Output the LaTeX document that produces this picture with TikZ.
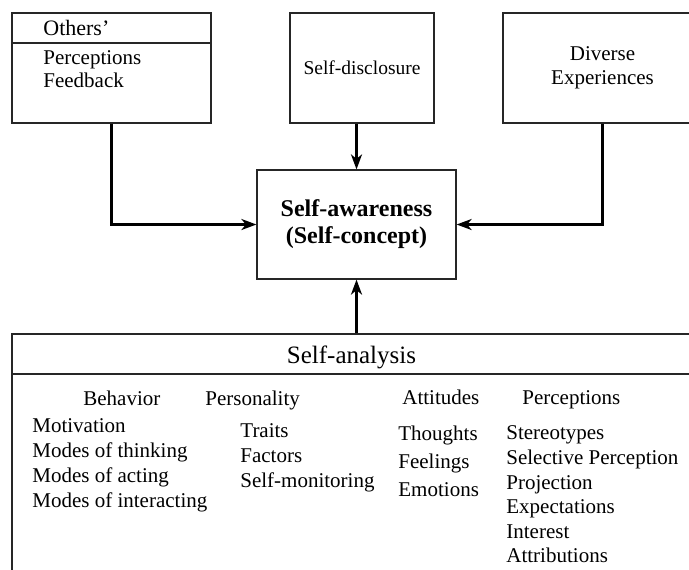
\documentclass[tikz,border=0pt]{standalone}
\usepackage{fontspec}
\setmainfont{Liberation Serif}
\usetikzlibrary{arrows.meta}

\begin{document}
\begin{tikzpicture}[x=0.5pt,y=-0.5pt,
		box/.style={draw=black!85,line width=0.6pt,minimum width=99.5pt,minimum height=55pt,align=center},
		link/.style={draw,line width=1.2pt,-{Stealth[length=7.5pt,width=5.5pt,inset=2.2pt]}},
		item/.style={inner sep=0pt,align=left,anchor=base west,font=\fontsize{10.5}{12.5}\selectfont},
		list/.style={item,anchor=north west}
		]
		\useasboundingbox (0,0) rectangle (689,569);
		\clip (0,0) rectangle (689,569);
		% top row
		\node[box] (others) at (111.5,68) {};
		\draw[draw=black!85,line width=0.6pt] (others.west |- 0,43) -- (others.east |- 0,43);
		\node[item,font=\fontsize{11}{13}\selectfont] (otherstitle) at (43,35) {Others’};
		\node[list,font=\fontsize{10.5}{11.5}\selectfont] (otherslist) at (43,50.5) {Perceptions\\Feedback};
		\node[box,minimum width=72pt,font=\fontsize{9.75}{12}\selectfont] (sdisc) at (362,68) {Self-disclosure};
		\node[box,font=\fontsize{10.5}{12}\selectfont] (diverse) at (602.5,68) {Diverse\\Experiences};
		% centre
		\node[box,minimum height=54.5pt,font=\bfseries\fontsize{12}{13.5}\selectfont] (aware) at (356.5,224.5) {Self-awareness\\(Self-concept)};
		% bottom
		\node[box,minimum width=380pt,minimum height=143pt] (analysis) at (392,477) {};
		\draw[draw=black!85,line width=0.6pt] (analysis.west |- 0,374) -- (analysis.east |- 0,374);
		\node[inner sep=0pt,anchor=base,font=\fontsize{12.5}{14}\selectfont] (analysistitle) at (351.5,363) {Self-analysis};
		\node[item] (behavior) at (83,405) {Behavior};
		\node[item] (personality) at (205,405) {Personality};
		\node[item] (attitudes) at (402,404) {Attitudes};
		\node[item] (perceptions) at (522,404) {Perceptions};
		\node[list] (behaviorlist) at (32,418.5) {Motivation\\Modes of thinking\\Modes of acting\\Modes of interacting};
		\node[list] (personalitylist) at (240,423.5) {Traits\\Factors\\Self-monitoring};
		\node[list,font=\fontsize{10.5}{14}\selectfont] (attitudeslist) at (398,425.5) {Thoughts\\Feelings\\Emotions};
		\node[list,font=\fontsize{10.5}{12.3}\selectfont] (perceptionslist) at (506,425.5) {Stereotypes\\Selective Perception\\Projection\\Expectations\\Interest\\Attributions};
		% connectors
		\draw[link] (others.south) |- (aware.west);
		\draw[link] (diverse.south) |- (aware.east);
		\draw[link] (aware.north |- sdisc.south) -- (aware.north);
		\draw[link] (analysis.north -| aware.south) -- (aware.south);
	\end{tikzpicture}
\end{document}
